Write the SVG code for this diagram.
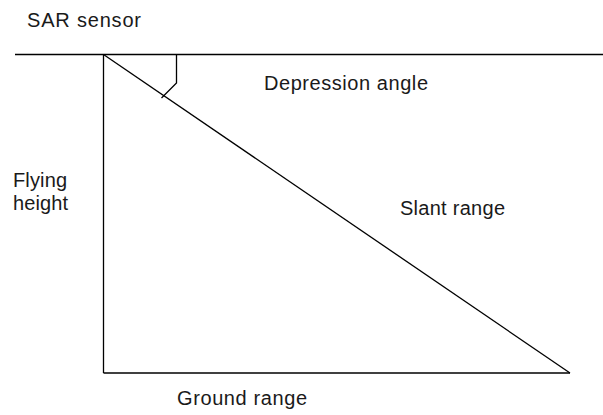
<svg xmlns="http://www.w3.org/2000/svg" width="603" height="415" viewBox="0 0 603 415">
<style>
.l{stroke:#000;stroke-width:1.3;fill:none}
text{font-family:"Liberation Sans",Arial,sans-serif;font-size:20px;fill:#1a1a1a}
</style>
<rect width="603" height="415" fill="#fff"/>
<g id="lines">
<line class="l" x1="15" y1="54.5" x2="603" y2="54.5"/>
<line class="l" x1="103.5" y1="54.5" x2="103.5" y2="373"/>
<line class="l" x1="103.5" y1="373" x2="570" y2="373"/>
<line class="l" x1="103.5" y1="54.5" x2="570" y2="373"/>
<polyline class="l" points="176.5,54.5 176.5,83 161.5,98"/>
</g>
<g id="labels">
<text x="27" y="27" textLength="114">SAR sensor</text>
<text x="264" y="90" textLength="164">Depression angle</text>
<text x="13" y="187" textLength="54">Flying</text>
<text x="13" y="210" textLength="55">height</text>
<text x="400" y="215" textLength="105">Slant range</text>
<text x="177" y="405" textLength="130">Ground range</text>
</g>
</svg>
